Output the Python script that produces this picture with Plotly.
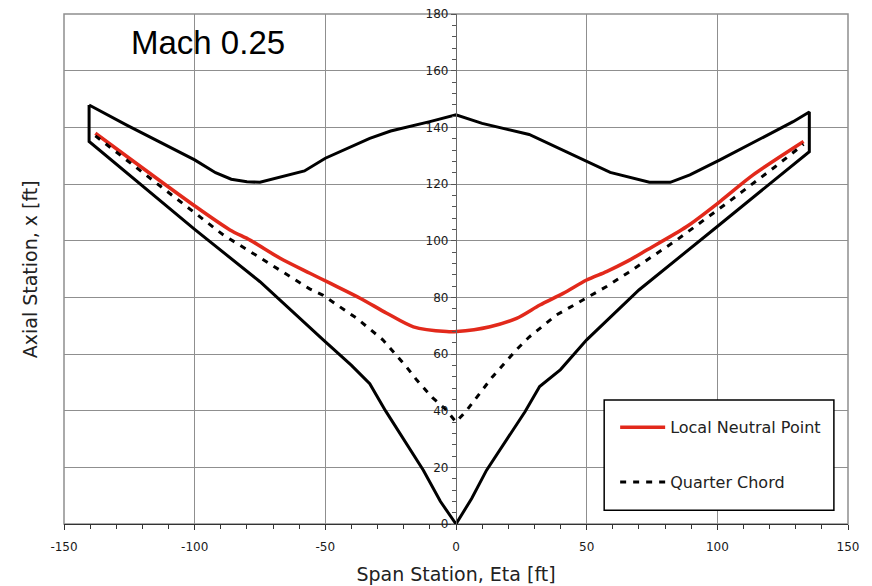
import plotly.graph_objects as go

# ---- data ----
outline_x = [-140.4, -140.4, -100, -75, -50.8, -40, -33, -27, -12.5, -6, 0,
             6, 11.7, 26.4, 32, 40, 50, 70, 100, 135.2, 135.2,
             129, 101, 89.5, 82, 74, 59, 50, 33, 28, 10, 0,
             -10, -25, -33, -50, -58, -75, -80, -86, -92, -100, -126, -140.4]
outline_y = [147.9, 135, 104, 85.5, 65, 56, 49.5, 40, 19, 8, 0,
             9, 19, 39.6, 48.5, 54.5, 65, 82.6, 105, 131.4, 145.4,
             142, 128.5, 123.2, 120.6, 120.6, 124.1, 128, 135.5, 137.5, 141.4, 144.4,
             142, 138.7, 136.1, 129.1, 124.6, 120.6, 120.8, 121.7, 124, 128.5, 140.8, 147.9]

neutral_x = [-138, -100.5, -86.5, -78.8, -67.3, -55.9, -48.2, -36.7, -26.5, -16.3,
             -3.6, 0.3, 13, 23.2, 32.1, 41, 50, 57.6, 65.3, 73, 88.3, 101, 113.7, 133]
neutral_y = [137.9, 112.6, 103.8, 100.2, 93.8, 88.5, 85, 79.7, 74.4, 69.6,
             67.9, 67.9, 69.6, 72.6, 77.3, 81.4, 86.1, 89.1, 92.6, 96.7, 105, 113.8, 123.2, 135]

quarter_x = [-138, -112, -89, -75, -56, -51, -38, -28, -23, -19, -15, -9, -4, 0,
             4, 9, 14, 23, 28, 38.5, 47.4, 57.6, 66, 84.4, 103.6, 122, 133]
quarter_y = [137, 118.5, 102, 94, 83, 80.8, 72.6, 65, 59.7, 55.5, 50.8, 44.6, 40.5, 36,
             40, 46, 52, 61.4, 66, 73.8, 78.5, 83.8, 88.8, 100.2, 113.2, 126, 134]

x_tickvals = [-150, -100, -50, 0, 50, 100, 150]
x_ticktext = ["-150", "-100", "-50", "0", "50", "100", "150"]
y_tickvals = [0, 20, 40, 60, 80, 100, 120, 140, 160, 180]
y_ticktext = ["0", "20", "40", "60", "80", "100", "120", "140", "160", "180"]

TICKFONT = dict(family="DejaVu Sans", size=12, color="#1a1a1a")
GRID = "#8f8f8f"

fig = go.Figure()
fig.add_trace(go.Scatter(x=outline_x, y=outline_y, mode="lines",
                         line=dict(color="black", width=3), showlegend=False,
                         hoverinfo="skip"))
fig.add_trace(go.Scatter(x=neutral_x, y=neutral_y, mode="lines", name="Local Neutral Point",
                         line=dict(color="#e2291b", width=3.5, shape="spline", smoothing=0.8),
                         legendgroup="a"))
fig.add_trace(go.Scatter(x=quarter_x, y=quarter_y, mode="lines", name="Quarter Chord",
                         line=dict(color="black", width=3, dash="6px,7px"),
                         legendgroup="b"))

fig.update_layout(
    width=872, height=586,
    margin=dict(l=56, r=32, t=6, b=70, autoexpand=False),
    plot_bgcolor="white", paper_bgcolor="white",
    xaxis=dict(range=[-150, 150], tickvals=x_tickvals, ticktext=x_ticktext,
               showgrid=True, gridcolor=GRID, gridwidth=1.3, zeroline=False,
               automargin=False, ticklabeloverflow="allow",
               showline=True, linecolor="#333", linewidth=1.3,
               ticks="outside", ticklen=5, tickcolor="#333", tickwidth=1,
               ticklabelstandoff=6,
               minor=dict(dtick=10, ticks="outside", ticklen=4, tickcolor="#333", showgrid=False),
               tickfont=TICKFONT,
               title=dict(text="Span Station, Eta [ft]",
                          font=dict(family="DejaVu Sans", size=19, color="#222"), standoff=15)),
    yaxis=dict(range=[0, 180], tickvals=y_tickvals, ticktext=y_ticktext,
               showgrid=True, gridcolor=GRID, gridwidth=1.3, zeroline=False,
               anchor="free", position=0.5, automargin=False, ticklabeloverflow="allow",
               showline=True, linecolor="#666", linewidth=1.3,
               ticks="outside", ticklen=5, tickcolor="#555", tickwidth=1,
               minor=dict(dtick=4, ticks="outside", ticklen=4, tickcolor="#555", showgrid=False),
               tickfont=TICKFONT),
    xaxis2=dict(overlaying="x", anchor="y", side="bottom", range=[-150, 150],
                tickvals=x_tickvals, showticklabels=False, showgrid=False, zeroline=False,
                automargin=False,
                ticks="inside", ticklen=5, tickcolor="#333",
                minor=dict(dtick=10, ticks="inside", ticklen=4, tickcolor="#333")),
    yaxis2=dict(overlaying="y", anchor="free", position=0.5, range=[0, 180],
                tickvals=y_tickvals, showticklabels=False, showgrid=False, zeroline=False,
                automargin=False,
                ticks="inside", ticklen=5, tickcolor="#555",
                minor=dict(dtick=4, ticks="inside", ticklen=4, tickcolor="#555")),
    showlegend=True,
    legend=dict(x=0.703, y=0.223, xanchor="left", yanchor="top",
                bgcolor="rgba(0,0,0,0)", borderwidth=0,
                font=dict(family="DejaVu Sans", size=16, color="#222"),
                tracegroupgap=31, traceorder="grouped", itemwidth=45),
    shapes=[
        dict(type="rect", xref="paper", yref="paper", x0=0, x1=1, y0=0, y1=1,
             line=dict(color=GRID, width=1.5), layer="below"),
        dict(type="rect", xref="paper", yref="paper", x0=0.689, x1=0.982,
             y0=0.027, y1=0.243, fillcolor="white",
             line=dict(color="black", width=1.5), layer="above"),
    ],
    annotations=[
        dict(text="Mach 0.25", x=-95, y=170, xref="x", yref="y", showarrow=False,
             font=dict(family="Liberation Sans, Arial", size=33, color="black")),
        dict(text="Axial Station, x [ft]", x=-0.043, y=0.5, xref="paper", yref="paper",
             textangle=-90, showarrow=False, xanchor="center", yanchor="middle",
             font=dict(family="DejaVu Sans", size=19, color="#222")),
    ],
)

fig.write_html("out.html")
